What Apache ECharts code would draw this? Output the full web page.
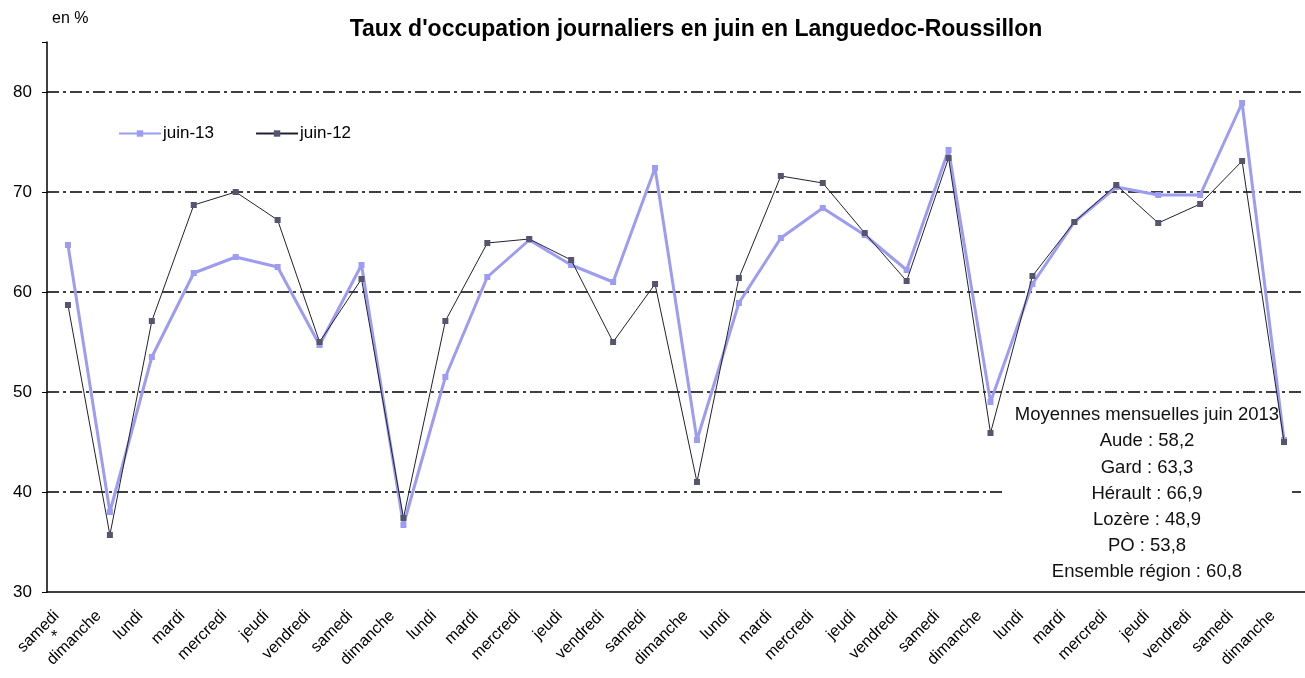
<!DOCTYPE html>
<html><head><meta charset="utf-8">
<script src="https://cdn.jsdelivr.net/npm/echarts@6/dist/echarts.min.js"></script>
<style>html,body{margin:0;padding:0;background:#fff}#c{width:1305px;height:678px}</style>
</head><body><div id="c"></div>
<script>
const categories = ['samedi','dimanche','lundi','mardi','mercredi','jeudi','vendredi',
 'samedi','dimanche','lundi','mardi','mercredi','jeudi','vendredi',
 'samedi','dimanche','lundi','mardi','mercredi','jeudi','vendredi',
 'samedi','dimanche','lundi','mardi','mercredi','jeudi','vendredi',
 'samedi','dimanche'];
const juin13 = [64.7,38.0,53.5,61.9,63.5,62.5,54.7,62.7,36.7,51.5,61.5,65.2,62.7,61.0,72.4,45.2,58.9,65.4,68.4,65.7,62.2,74.2,49.0,60.8,67.0,70.5,69.7,69.7,78.9,45.2];
const juin12 = [58.7,35.7,57.1,68.7,70.0,67.2,55.0,61.3,37.4,57.1,64.9,65.3,63.2,55.0,60.8,41.0,61.4,71.6,70.9,65.9,61.1,73.4,45.9,61.6,67.0,70.7,66.9,68.8,73.1,45.0];
const yTicks = [30,40,50,60,70,80];
const noteLines = ['Moyennes mensuelles juin 2013','Aude : 58,2','Gard : 63,3','Hérault : 66,9','Lozère : 48,9','PO : 53,8','Ensemble région : 60,8'];

const FONT = '"Liberation Sans", Arial, sans-serif';
const chart = echarts.init(document.getElementById('c'));
chart.setOption({
  backgroundColor: '#fff',
  animation: false,
  title: {
    text: "Taux d'occupation journaliers en juin en Languedoc-Roussillon",
    left: 691, top: 13, textAlign: 'center',
    textStyle: {fontFamily: FONT, fontWeight: 'bold', fontSize: 23, color: '#000'}
  },
  legend: {
    left: 113, top: 120, itemWidth: 42, itemHeight: 8, itemGap: 41,
    textStyle: {fontFamily: FONT, fontSize: 17, color: '#000', padding: [0,0,0,-3]},
    data: ['juin-13','juin-12']
  },
  grid: {left: 47, right: -8, top: 42, bottom: 86},
  xAxis: {
    type: 'category', data: categories, boundaryGap: true,
    axisLine: {lineStyle: {color: '#000', width: 1.5}},
    axisTick: {inside: true, length: 5, lineStyle: {color: '#000', width: 1.2}},
    axisLabel: {rotate: 45, interval: 0, fontFamily: FONT, fontSize: 16, color: '#000', margin: 10, padding: [0,16,0,0]}
  },
  yAxis: {
    type: 'value', min: 30, max: 85, interval: 10,
    axisLine: {show: true, lineStyle: {color: '#000', width: 1.5}},
    axisTick: {show: true, length: 5, lineStyle: {color: '#000'}},
    axisLabel: {fontFamily: FONT, fontSize: 17, color: '#000', margin: 15,
      formatter: v => yTicks.includes(v) ? String(v) : ''},
    splitLine: {show: true, lineStyle: {color: ['rgba(0,0,0,0)','#000','#000','#000','#000','#000','rgba(0,0,0,0)'], width: 1.5, type: [12,4,3,4]}}
  },
  graphic: [
    {type: 'text', left: 52, top: 11, style: {text: 'en %', fontFamily: FONT, fontSize: 16, fill: '#000'}},
    {type: 'text', left: 51, top: 630, style: {text: '*', fontFamily: FONT, fontSize: 16, fill: '#000'}},
    {type: 'rect', z: 1, shape: {x: 1004, y: 400, width: 288, height: 186}, style: {fill: '#fff'}},
    {type: 'text', z: 1, x: 1147, y: 402, style: {text: noteLines.join('\n'), fontFamily: FONT, fontSize: 18.5, lineHeight: 26.2, fill: '#111', align: 'center'}}
  ],
  series: [
    {name: 'juin-13', type: 'line', data: juin13, z: 3,
     symbol: 'rect', symbolSize: 6,
     itemStyle: {color: '#9c9cf2'},
     lineStyle: {color: '#9c9cf2', width: 3}},
    {name: 'juin-12', type: 'line', data: juin12, z: 4,
     symbol: 'rect', symbolSize: 6,
     itemStyle: {color: '#55556e'},
     lineStyle: {color: '#222230', width: 1}}
  ]
});
</script></body></html>
